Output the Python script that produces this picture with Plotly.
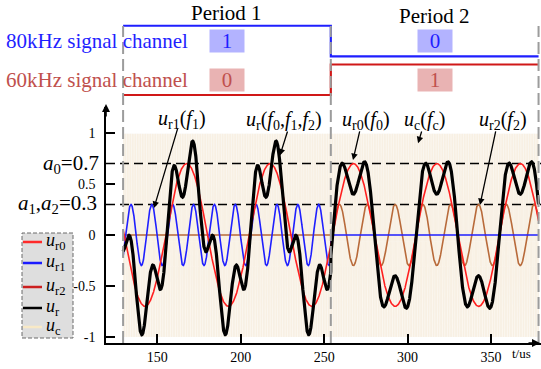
import numpy as np
import plotly.graph_objects as go

# ---- signal description (time in microseconds) ----
period_edges = [129.5, 254.0, 378.5]
period_names = ["Period 1", "Period 2"]
bits_80k = [1, 0]          # 80 kHz channel bit in each period
bits_60k = [0, 1]          # 60 kHz channel bit in each period
a0 = 0.7                   # amplitude of u_r0
a1 = 0.3                   # amplitude of u_r1
a2 = 0.3                   # amplitude of u_r2
f0_khz = 20
f1_khz = 80
f2_khz = 60
fc_khz = 1000
peak_t0 = 167.6            # time of a u_r0 crest
peak_t1 = 134.2            # time of a u_r1 crest
peak_t2 = 342.5            # time of a u_r2 crest
x_ticks = [150, 200, 250, 300, 350]
y_ticks = [-1, -0.5, 0, 0.5, 1]
y_tick_text = ["-1", "-0.5", "0", "0.5", "1"]

W, H = 541, 369
FONT = "Liberation Serif"


def px(x):
    return x / W


def py(y):
    return 1 - y / H


t = np.arange(period_edges[0], period_edges[-1] + 1e-9, 0.04)
idx = np.clip(np.searchsorted(period_edges[1:-1], t, side="right"), 0, len(bits_80k) - 1)
on1 = np.array(bits_80k)[idx]
on2 = np.array(bits_60k)[idx]

u_r0 = a0 * np.cos(2 * np.pi * f0_khz / 1000 * (t - peak_t0))
u_r1 = on1 * a1 * np.cos(2 * np.pi * f1_khz / 1000 * (t - peak_t1))
u_r2 = on2 * a2 * np.cos(2 * np.pi * f2_khz / 1000 * (t - peak_t2))
u_r = u_r0 + u_r1 + u_r2
u_c = np.cos(2 * np.pi * fc_khz / 1000 * t)

red = "#ff1f1f"
blue = "#1f1fff"
brown = "#b86a3a"
beige = "#f8f0e3"
dark_red = "#c0504d"

fig = go.Figure()

# carrier band
fig.add_trace(go.Scatter(x=t, y=u_c, mode="lines", line=dict(color=beige, width=1),
                         hoverinfo="skip"))
# amplitude reference levels
x_lo, x_hi = 119.25, 379.97
for lvl in (a0, a1):
    fig.add_trace(go.Scatter(x=[x_lo, x_hi], y=[lvl, lvl], mode="lines",
                             line=dict(color="black", width=1.5, dash="9px,5px"),
                             hoverinfo="skip"))
fig.add_trace(go.Scatter(x=t, y=u_r2, mode="lines", line=dict(color=brown, width=1.6)))
fig.add_trace(go.Scatter(x=t, y=u_r1, mode="lines", line=dict(color=blue, width=1.6)))
fig.add_trace(go.Scatter(x=t, y=u_r0, mode="lines", line=dict(color=red, width=1.6)))
fig.add_trace(go.Scatter(x=t, y=u_r, mode="lines", line=dict(color="black", width=3.2)))

# channel state lines (upper panel)
row_offset = {"80k": 1.27, "60k": 0.0}
fig.add_trace(go.Scatter(x=period_edges, y=[b + row_offset["80k"] for b in bits_80k + bits_80k[-1:]],
                         mode="lines", line=dict(color=blue, width=2.2, shape="hv"),
                         xaxis="x", yaxis="y2"))
fig.add_trace(go.Scatter(x=period_edges, y=[b + row_offset["60k"] for b in bits_60k + bits_60k[-1:]],
                         mode="lines", line=dict(color="#d01818", width=2.2, shape="hv"),
                         xaxis="x", yaxis="y2"))

shapes = []
# period boundaries
for e in period_edges:
    shapes.append(dict(type="line", xref="x", yref="paper", x0=e, x1=e,
                       y0=py(343), y1=py(26), layer="above",
                       line=dict(color="#9c9c9c", width=2, dash="12px,5px")))

# legend box
shapes.append(dict(type="rect", xref="paper", yref="paper", x0=px(22), x1=px(73),
                   y0=py(338), y1=py(233), fillcolor="#dedede",
                   line=dict(color="#6a6a6a", width=1, dash="4px,2px"), layer="above"))
legend_items = [
    ("<i>u</i><sub>r0</sub>", "#ff2a2a", 242),
    ("<i>u</i><sub>r1</sub>", "#1a1aff", 263),
    ("<i>u</i><sub>r2</sub>", "#cc1f1f", 287),
    ("<i>u</i><sub>r</sub>", "black", 308),
    ("<i>u</i><sub>c</sub>", "#f8e9c6", 327),
]
annotations = []
for label, col, yy in legend_items:
    shapes.append(dict(type="line", xref="paper", yref="paper", x0=px(23), x1=px(42),
                       y0=py(yy), y1=py(yy), layer="above", line=dict(color=col, width=2.5)))
    annotations.append(dict(text=label, xref="paper", yref="paper", x=px(44), y=py(yy - 1),
                            xanchor="left", yanchor="middle", showarrow=False,
                            font=dict(family=FONT, size=18, color="black")))

# period titles and bit boxes
for i, name in enumerate(period_names):
    mid = (period_edges[i] + period_edges[i + 1]) / 2
    annotations.append(dict(text=name, xref="x", yref="paper", x=mid, y=py(13 + 3 * i),
                            xanchor="center", yanchor="middle", showarrow=False,
                            font=dict(family=FONT, size=21, color="black")))
    annotations.append(dict(text=str(bits_80k[i]), xref="x", yref="y2", x=mid,
                            y=row_offset["80k"] + 0.5, showarrow=False, bgcolor="#b3b3ff",
                            width=34, height=22, borderpad=0,
                            font=dict(family=FONT, size=21, color=blue)))
    annotations.append(dict(text=str(bits_60k[i]), xref="x", yref="y2", x=mid,
                            y=row_offset["60k"] + 0.5, showarrow=False, bgcolor="#e9b3b3",
                            width=34, height=22, borderpad=0,
                            font=dict(family=FONT, size=21, color=dark_red)))

annotations.append(dict(text="80kHz signal channel", xref="paper", yref="y2", x=px(4),
                        y=row_offset["80k"] + 0.5, xanchor="left", yanchor="middle",
                        showarrow=False, font=dict(family=FONT, size=21, color=blue)))
annotations.append(dict(text="60kHz signal channel", xref="paper", yref="y2", x=px(4),
                        y=row_offset["60k"] + 0.5, xanchor="left", yanchor="middle",
                        showarrow=False, font=dict(family=FONT, size=21, color=dark_red)))

# amplitude labels
annotations.append(dict(text="<i>a</i><sub>0</sub>=0.7", xref="paper", yref="y", x=px(101), y=a0,
                        xanchor="right", yanchor="middle", showarrow=False,
                        font=dict(family=FONT, size=21, color="black")))
annotations.append(dict(text="<i>a</i><sub>1</sub>,<i>a</i><sub>2</sub>=0.3", xref="paper",
                        yref="y", x=px(99), y=a1, xanchor="right", yanchor="middle",
                        showarrow=False, font=dict(family=FONT, size=21, color="black")))

# curve callouts: (label, label position, arrow tail, arrow tip)
callouts = [
    ("<i>u</i><sub>r1</sub>(<i>f</i><sub>1</sub>)", (164.9, 1.13), (162.5, 1.06), (148.0, 0.265)),
    ("<i>u</i><sub>r</sub>(<i>f</i><sub>0</sub>,<i>f</i><sub>1</sub>,<i>f</i><sub>2</sub>)",
     (226.0, 1.12), (228.3, 1.03), (223.5, 0.78)),
    ("<i>u</i><sub>r0</sub>(<i>f</i><sub>0</sub>)", (275.1, 1.12), (271.5, 1.03), (267.3, 0.735)),
    ("<i>u</i><sub>c</sub>(<i>f</i><sub>c</sub>)", (309.9, 1.12), (308.7, 1.03), (306.3, 0.90)),
    ("<i>u</i><sub>r2</sub>(<i>f</i><sub>2</sub>)", (357.3, 1.12), (353.0, 1.03), (343.4, 0.294)),
]
for label, (lx, ly), (tx, ty), (hx, hy) in callouts:
    annotations.append(dict(text=label, xref="x", yref="y", x=lx, y=ly, showarrow=False,
                            xanchor="center", yanchor="middle",
                            font=dict(family=FONT, size=20, color="black")))
    annotations.append(dict(text="", xref="x", yref="y", x=hx, y=hy, axref="x", ayref="y",
                            ax=tx, ay=ty, showarrow=True, arrowhead=2, arrowsize=1,
                            arrowwidth=1.3, arrowcolor="black", standoff=0))

# axis arrows and unit
annotations.append(dict(text="", xref="paper", yref="paper", x=px(541), y=py(343),
                        ax=-14, ay=0, showarrow=True, arrowhead=2, arrowsize=1,
                        arrowwidth=1.6, arrowcolor="black", standoff=0))
annotations.append(dict(text="", xref="paper", yref="paper", x=px(106), y=py(104),
                        ax=0, ay=14, showarrow=True, arrowhead=2, arrowsize=1,
                        arrowwidth=1.6, arrowcolor="black", standoff=0))
annotations.append(dict(text="t/us", xref="paper", yref="paper", x=px(521), y=py(353),
                        xanchor="center", yanchor="middle", showarrow=False,
                        font=dict(family=FONT, size=13, color="black")))

fig.update_layout(
    width=W, height=H, margin=dict(l=0, r=0, t=0, b=0),
    paper_bgcolor="white", plot_bgcolor="rgba(0,0,0,0)", showlegend=False,
    xaxis=dict(domain=[px(106), 1], range=[x_lo, x_hi], showline=True, linecolor="black",
               linewidth=1.6, ticks="inside", ticklen=9, tickwidth=1.5, tickcolor="black",
               tickvals=x_ticks, showgrid=False, zeroline=False, anchor="y",
               ticklabelstandoff=0,
               tickfont=dict(family=FONT, size=14, color="black"), automargin=False),
    yaxis=dict(domain=[py(343), py(107)], range=[-1.059, 1.255], showline=True,
               linecolor="black", linewidth=1.6, ticks="inside", ticklen=9, tickwidth=1.5,
               tickcolor="black", tickvals=y_ticks, ticktext=y_tick_text, showgrid=False,
               zeroline=False, ticklabelstandoff=6,
               tickfont=dict(family=FONT, size=14, color="black"), automargin=False),
    yaxis2=dict(domain=[py(107), 1], range=[-0.393, 3.115], visible=False, anchor="x"),
    shapes=shapes, annotations=annotations,
)

fig.write_html("out.html")
